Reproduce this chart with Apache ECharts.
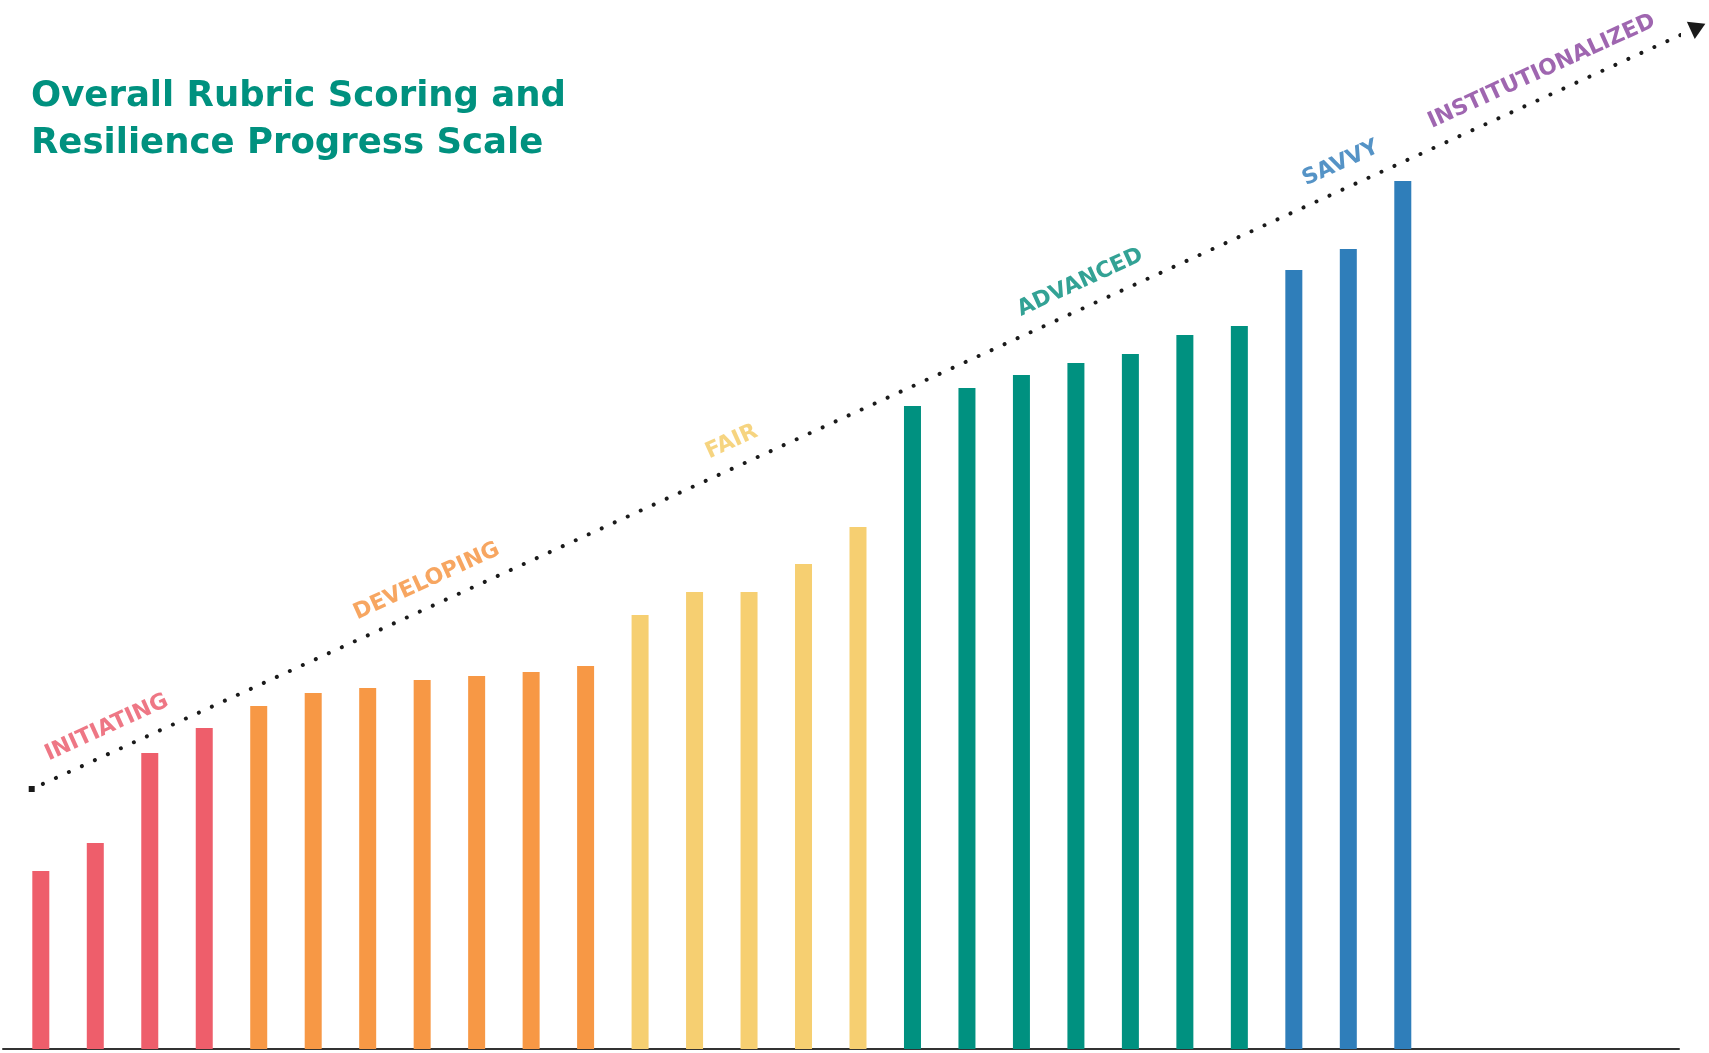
<!DOCTYPE html>
<html>
<head>
<meta charset="utf-8">
<script src="https://cdn.jsdelivr.net/npm/echarts@6/dist/echarts.min.js"></script>
<style>
html,body{margin:0;padding:0;background:#fff;}
#chart{width:1709px;height:1053px;}
</style>
</head>
<body>
<div id="chart"></div>
<script>
// ---- data ----
const titleText = 'Overall Rubric Scoring and\nResilience Progress Scale';
const levelNames = ['INITIATING', 'DEVELOPING', 'FAIR', 'ADVANCED', 'SAVVY', 'INSTITUTIONALIZED'];
const levelColors = ['#EE5E6B', '#F79845', '#F6CF71', '#009180', '#2F7EBA', '#8B45A0'];
const labelColors = ['#EA5566', '#F5903A', '#F4C960', '#008B7A', '#2A78B8', '#87409C'];
// one entry per bar (rubric score, 0-100) and its level index
const scores = [17.8, 20.6, 29.6, 32.1, 34.3, 35.6, 36.1, 36.9, 37.3, 37.7, 38.3,
                43.4, 45.7, 45.7, 48.5, 52.2, 64.3, 66.1, 67.4, 68.6, 69.5, 71.4, 72.3,
                77.9, 80.0, 86.8];
const barLevels = [0, 0, 0, 0, 1, 1, 1, 1, 1, 1, 1,
                   2, 2, 2, 2, 2, 3, 3, 3, 3, 3, 3, 3,
                   4, 4, 4];
// progress arrow (start / end in chart units)
const trendStart = [0.833, 26.0];
const trendEnd = [31.42, 102.2];
// where along the arrow each level name sits (x in bar units)
const levelLabelAt = [2.21, 8.085, 13.68, 20.08, 24.86, 28.55];

// ---- build ----
const slope = (trendEnd[1] - trendStart[1]) / (trendEnd[0] - trendStart[0]);
const trendY = x => trendStart[1] + slope * (x - trendStart[0]);

const barData = scores.map((v, i) => ({
  value: [i + 1, v],
  itemStyle: { color: levelColors[barLevels[i]] }
}));

const labelData = levelNames.map((n, i) => ({
  value: [levelLabelAt[i], trendY(levelLabelAt[i]) + 2.7],
  name: n,
  label: { color: labelColors[i] }
}));

const chart = echarts.init(document.getElementById('chart'), null, { renderer: 'canvas' });
chart.setOption({
  animation: false,
  backgroundColor: '#ffffff',
  title: {
    text: titleText,
    left: 26,
    top: 68,
    textStyle: {
      fontFamily: 'DejaVu Sans',
      fontWeight: 'bold',
      fontSize: 35.5,
      lineHeight: 47,
      color: '#00917F'
    }
  },
  grid: { left: 3, right: 30, top: 49, bottom: 4 },
  xAxis: {
    type: 'value',
    min: 0.306,
    max: 31.07,
    axisLine: { show: true, onZero: false, lineStyle: { color: '#333333', width: 2 } },
    axisTick: { show: false },
    axisLabel: { show: false },
    splitLine: { show: false }
  },
  yAxis: {
    type: 'value',
    min: 0,
    max: 100,
    show: false,
    splitLine: { show: false }
  },
  series: [
    {
      type: 'bar',
      data: barData,
      barWidth: 17,
      z: 2
    },
    {
      type: 'line',
      clip: false,
      z: 3,
      data: [
        { value: trendStart, symbol: 'rect', symbolSize: 6 },
        { value: trendEnd, symbol: 'triangle', symbolSize: [19, 16], symbolRotate: -65.4 }
      ],
      showSymbol: true,
      itemStyle: { color: '#1a1a1a' },
      lineStyle: { color: '#1a1a1a', width: 4, type: [0.01, 14.28], cap: 'round', dashOffset: 2 }
    },
    {
      type: 'scatter',
      clip: false,
      symbolSize: 0,
      z: 4,
      data: labelData,
      label: {
        show: true,
        position: 'inside',
        rotate: 24.57,
        formatter: p => p.name,
        fontFamily: 'DejaVu Sans',
        fontWeight: 'bold',
        fontSize: 22,
        align: 'center',
        verticalAlign: 'middle'
      }
    }
  ]
});
</script>
</body>
</html>
